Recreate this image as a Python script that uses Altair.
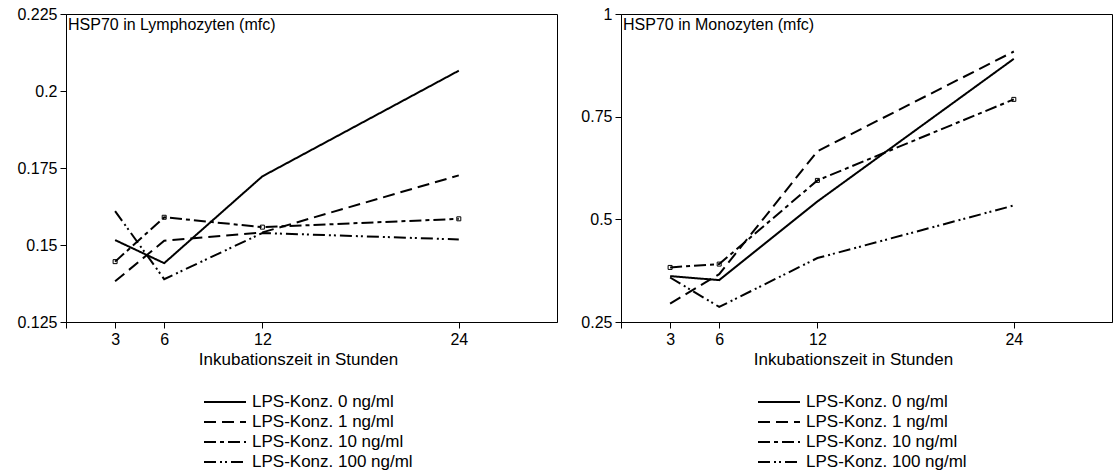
import altair as alt
import pandas as pd

hours = [3, 6, 12, 24]
series = ["LPS-Konz. 0 ng/ml", "LPS-Konz. 1 ng/ml", "LPS-Konz. 10 ng/ml", "LPS-Konz. 100 ng/ml"]

lymph_0 = [0.1516, 0.1441, 0.1723, 0.2066]
lymph_1 = [0.1382, 0.1514, 0.1541, 0.1726]
lymph_10 = [0.1446, 0.1590, 0.1558, 0.1585]
lymph_100 = [0.1610, 0.1389, 0.1539, 0.1518]

mono_0 = [0.3617, 0.3520, 0.5435, 0.8908]
mono_1 = [0.2948, 0.3666, 0.6658, 0.9087]
mono_10 = [0.3829, 0.3910, 0.5948, 0.7921]
mono_100 = [0.3584, 0.2867, 0.4057, 0.5337]

lymph_ticks = [0.125, 0.15, 0.175, 0.2, 0.225]
mono_ticks = [0.25, 0.5, 0.75, 1.0]
x_ticks = [0, 3, 6, 12, 24]

dashes = [[1, 0], [12, 6], [12, 4, 4, 4], [12, 4, 2, 3, 2, 4]]

FONT = "Liberation Sans"


def make_df(vals):
    rows = []
    for s, v in zip(series, vals):
        for h, y in zip(hours, v):
            rows.append({"h": h, "v": y, "s": s})
    return pd.DataFrame(rows)


def panel(df, title, ydom, yticks, legend_x):
    x = alt.X("h:Q", scale=alt.Scale(domain=[0, 30], nice=False, zero=False),
              axis=alt.Axis(values=x_ticks, title="Inkubationszeit in Stunden",
                            labelExpr="datum.value == 0 ? '' : datum.label",
                            titleX=232, titleAlign="center", titlePadding=4))
    y = alt.Y("v:Q", scale=alt.Scale(domain=ydom, nice=False, zero=False),
              axis=alt.Axis(values=yticks, title=None,
                            labelExpr="format(datum.value, '.3~g')",
                            minExtent=55, maxExtent=55))
    lines = alt.Chart(df).mark_line(color="black", strokeWidth=2, strokeCap="butt").encode(
        x=x, y=y,
        strokeDash=alt.StrokeDash("s:N", scale=alt.Scale(domain=series, range=dashes),
                                  legend=alt.Legend(orient="none", legendX=legend_x, legendY=378,
                                                    title=None, symbolType="stroke",
                                                    symbolSize=1764, symbolStrokeWidth=2,
                                                    symbolStrokeColor="black", clipHeight=20,
                                                    rowPadding=0, padding=0, labelFontSize=17,
                                                    labelFont=FONT, labelColor="black",
                                                    labelOffset=5, labelLimit=400)),
        detail="s:N",
    )
    pts = alt.Chart(df).transform_filter(alt.datum.s == series[2]).mark_point(
        shape="square", size=16, filled=False, color="black", strokeWidth=1, opacity=1
    ).encode(x=x, y=y)
    txt = alt.Chart(pd.DataFrame({"t": [title]})).mark_text(
        align="left", baseline="alphabetic", fontSize=16, font=FONT, color="black"
    ).encode(text="t:N", x=alt.value(2), y=alt.value(16))
    return alt.layer(lines, pts, txt).properties(width=491, height=308)


left = panel(make_df([lymph_0, lymph_1, lymph_10, lymph_100]),
             "HSP70 in Lymphozyten (mfc)", [0.125, 0.225], lymph_ticks, 137)
right = panel(make_df([mono_0, mono_1, mono_10, mono_100]),
              "HSP70 in Monozyten (mfc)", [0.25, 1.0], mono_ticks, 136)

chart = alt.hconcat(left, right, spacing=7).resolve_scale(
    strokeDash="independent", x="independent", y="independent"
).resolve_legend(strokeDash="independent").properties(
    padding={"left": 10, "top": 5, "right": 0, "bottom": 0}
).configure_view(stroke="black", strokeWidth=1).configure_axis(
    grid=False, domainColor="black", domainWidth=1, tickColor="black", tickSize=6,
    tickWidth=1, labelColor="black", labelFontSize=16, labelFont=FONT, labelPadding=3,
    titleColor="black", titleFontSize=17, titleFont=FONT, titleFontWeight="normal"
)

chart.save("out.html", embed_options={"renderer": "svg", "actions": False})
